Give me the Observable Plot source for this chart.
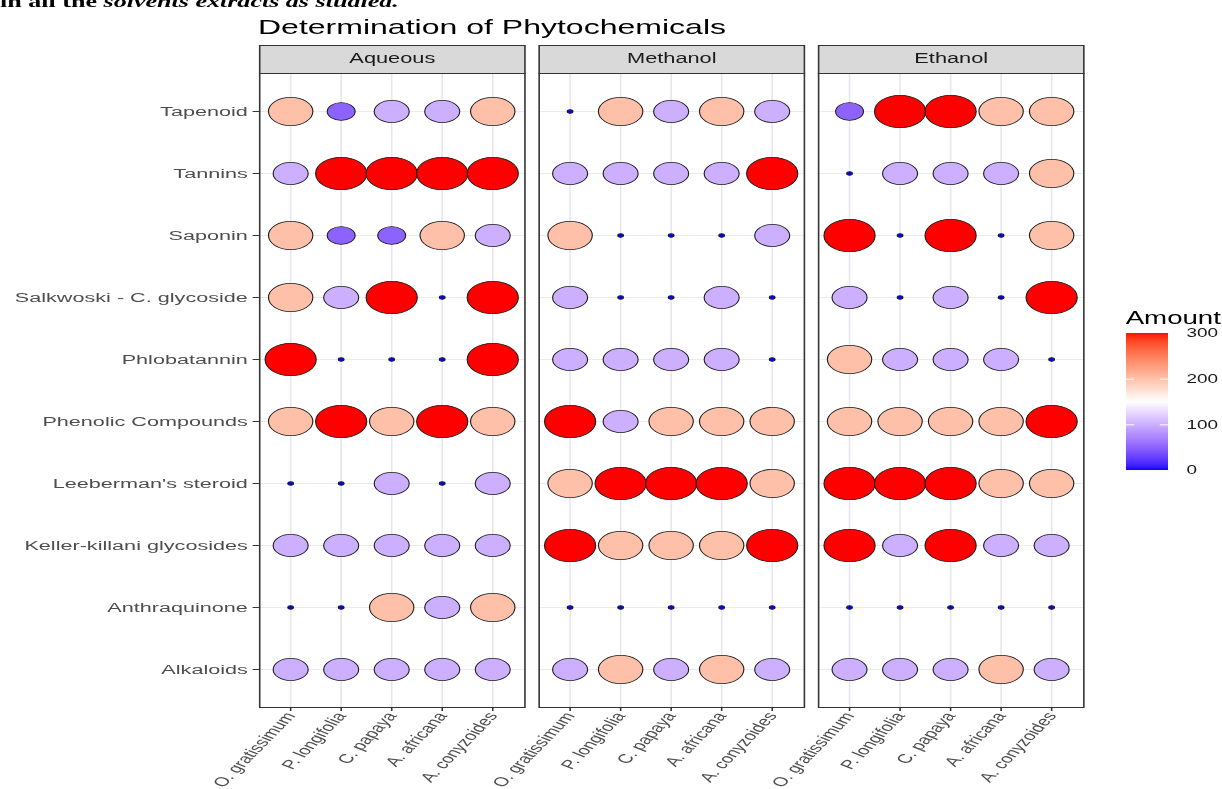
<!DOCTYPE html>
<html>
<head>
<meta charset="utf-8">
<script src="https://cdn.jsdelivr.net/npm/d3@7"></script>
<script src="https://cdn.jsdelivr.net/npm/@observablehq/plot@0.6"></script>
<style>
html, body { margin: 0; padding: 0; background: #fff; overflow: hidden; }
#wrap { position: relative; width: 774px; height: 789px; transform: scaleX(1.5788); transform-origin: 0 0;
        font-family: "Liberation Sans", Arial, sans-serif; }
#sentence { position: absolute; left: 0; top: -6.5px; font-family: "Liberation Serif", "Times New Roman", serif;
            font-weight: bold; font-size: 16.5px; line-height: 1; white-space: nowrap; color: #000; }
#title { position: absolute; left: 163.4px; top: 16.5px; font-size: 20.3px; line-height: 1; color: #000; white-space: nowrap; }
#chart { position: absolute; left: 0; top: 0; width: 774px; }
#legtitle { position: absolute; left: 713px; top: 309.5px; font-size: 17.5px; line-height: 1; color: #000; white-space: nowrap; }
#legend { position: absolute; left: 713px; top: 325px; width: 80px; }
svg { overflow: visible; max-width: none !important; }
</style>
</head>
<body>
<div id="wrap">
  <div id="sentence">in all the <i>solvents extracts as studied.</i></div>
  <div id="title">Determination of Phytochemicals</div>
  <div id="chart"></div>
  <div id="legtitle">Amount</div>
  <div id="legend"></div>
</div>
<script>
// ---- data ----
const solvents = ["Aqueous", "Methanol", "Ethanol"];
const plants = ["O. gratissimum", "P. longifolia", "C. papaya", "A. africana", "A. conyzoides"];
const compounds = ["Tapenoid", "Tannins", "Saponin", "Salkwoski - C. glycoside", "Phlobatannin",
  "Phenolic Compounds", "Leeberman's steroid", "Keller-killani glycosides", "Anthraquinone", "Alkaloids"];
// one row per compound (same order), one value per plant (same order)
const aqueous = [
  [200, 50, 100, 100, 200],
  [100, 300, 300, 300, 300],
  [200, 50, 50, 200, 100],
  [200, 100, 300, 0, 300],
  [300, 0, 0, 0, 300],
  [200, 300, 200, 300, 200],
  [0, 0, 100, 0, 100],
  [100, 100, 100, 100, 100],
  [0, 0, 200, 100, 200],
  [100, 100, 100, 100, 100]
];
const methanol = [
  [0, 200, 100, 200, 100],
  [100, 100, 100, 100, 300],
  [200, 0, 0, 0, 100],
  [100, 0, 0, 100, 0],
  [100, 100, 100, 100, 0],
  [300, 100, 200, 200, 200],
  [200, 300, 300, 300, 200],
  [300, 200, 200, 200, 300],
  [0, 0, 0, 0, 0],
  [100, 200, 100, 200, 100]
];
const ethanol = [
  [50, 300, 300, 200, 200],
  [0, 100, 100, 100, 200],
  [300, 0, 300, 0, 200],
  [100, 0, 100, 0, 300],
  [200, 100, 100, 100, 0],
  [200, 200, 200, 200, 300],
  [300, 300, 300, 200, 200],
  [300, 100, 300, 100, 100],
  [0, 0, 0, 0, 0],
  [100, 100, 100, 200, 100]
];
const legendTicks = [0, 100, 200, 300];

// ---- table built from the arrays ----
const tables = {Aqueous: aqueous, Methanol: methanol, Ethanol: ethanol};
const rows = [];
for (const s of solvents) {
  tables[s].forEach((vals, i) => {
    vals.forEach((v, j) => rows.push({solvent: s, compound: compounds[i], plant: plants[j], amount: v}));
  });
}

const FONT = '"Liberation Sans", Arial, sans-serif';
const colorScale = {type: "linear", domain: [0, 150, 300], range: ["blue", "white", "red"], interpolate: "lab"};

const W = 774, H = 789, MT = 73, MB = 82;
const panelH = H - MT - MB;

const chart = Plot.plot({
  width: W, height: H,
  marginTop: MT, marginBottom: MB, marginLeft: 163.4, marginRight: 87.4,
  style: {fontFamily: FONT, background: "transparent", overflow: "visible", maxWidth: "none"},
  fx: {domain: solvents, paddingInner: 0.05, paddingOuter: 0, axis: null},
  x: {type: "point", domain: plants, padding: 0.6},
  y: {type: "point", domain: compounds, padding: 0.6},
  r: {type: "pow", exponent: 0.4, domain: [0, 300], range: [1.8, 16.2]},
  color: colorScale,
  marks: [
    Plot.frame({fill: "#d9d9d9", stroke: "#333333", strokeWidth: 1, insetTop: -28, insetBottom: panelH}),
    Plot.text(solvents, {fx: d => d, text: d => d, frameAnchor: "top", lineAnchor: "middle", dy: -14.5, fontSize: 13.8, fill: "#1a1a1a"}),
    Plot.gridX({stroke: "#e6e6ee", strokeOpacity: 1, strokeWidth: 1}),
    Plot.gridY({stroke: "#ebebeb", strokeOpacity: 1, strokeWidth: 1}),
    Plot.dot(rows, {fx: "solvent", x: "plant", y: "compound", r: "amount", fill: "amount",
      stroke: "#1a1a1a", strokeWidth: 0.7}),
    Plot.frame({stroke: "#333333", strokeWidth: 1}),
    Plot.axisX({tickRotate: -57.65, tickSize: 4, tickPadding: 2, fontSize: 12.8, fill: "#4d4d4d", stroke: "#333333", label: null}),
    Plot.axisY({tickSize: 4, tickPadding: 3.5, fontSize: 13.7, fill: "#4d4d4d", stroke: "#333333", label: null})
  ]
});
document.getElementById("chart").appendChild(chart);

// ---- colour bar legend ----
const legend = Plot.plot({
  width: 80, height: 153, marginTop: 8, marginBottom: 8, marginLeft: 0, marginRight: 53,
  style: {fontFamily: FONT, background: "transparent", overflow: "visible", maxWidth: "none"},
  x: {domain: [0, 1], axis: null},
  y: {domain: [0, 300], axis: null},
  color: colorScale,
  marks: [
    Plot.rect(d3.range(0, 300, 1), {x1: 0, x2: 1, y1: d => d, y2: d => Math.min(300, d + 2.5), fill: d => d + 0.5, shapeRendering: "crispEdges"}),
    Plot.ruleY(legendTicks.slice(1, 3), {x1: 0, x2: 0.2, stroke: "white", strokeWidth: 1}),
    Plot.ruleY(legendTicks.slice(1, 3), {x1: 0.8, x2: 1, stroke: "white", strokeWidth: 1}),
    Plot.axisY(legendTicks, {anchor: "right", tickSize: 0, tickPadding: 11, fontSize: 12, fill: "#1a1a1a", label: null})
  ]
});
document.getElementById("legend").appendChild(legend);
</script>
</body>
</html>
